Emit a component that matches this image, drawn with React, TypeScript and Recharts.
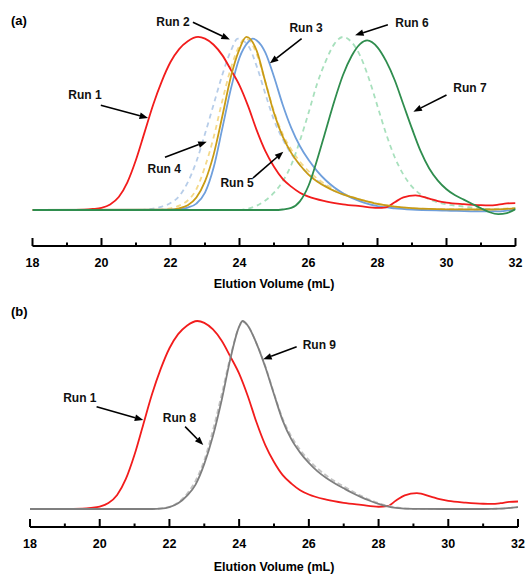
import { LineChart, Line, XAxis, YAxis, ReferenceLine, ReferenceDot } from 'recharts'

// elution volume (mL) -> normalised absorbance
const volumeTicks = [18, 19, 20, 21, 22, 23, 24, 25, 26, 27, 28, 29, 30, 31, 32]

const run1 = [
  [18, 0], [19, 0], [19.5, 0.002], [19.75, 0.006], [20, 0.013], [20.25, 0.032], [20.5, 0.075], [20.75, 0.16],
  [21, 0.29], [21.25, 0.45], [21.5, 0.61], [21.75, 0.745], [22, 0.855], [22.25, 0.93], [22.5, 0.975], [22.8, 1.0],
  [23, 0.99], [23.25, 0.955], [23.5, 0.895], [23.75, 0.81], [24, 0.72], [24.25, 0.6], [24.5, 0.46], [24.75, 0.34],
  [25, 0.25], [25.25, 0.18], [25.5, 0.135], [25.75, 0.1], [26, 0.077], [26.5, 0.05], [27, 0.033], [27.5, 0.022],
  [28, 0.012], [28.25, 0.015], [28.5, 0.045], [28.75, 0.073], [29.1, 0.085], [29.5, 0.066], [29.75, 0.052],
  [30, 0.043], [30.5, 0.034], [31, 0.028], [31.25, 0.027], [31.5, 0.031], [31.75, 0.038], [32, 0.04],
]

const run2 = [
  [18, 0], [21, 0], [21.5, 0.008], [21.75, 0.02], [22, 0.04], [22.25, 0.08], [22.5, 0.16], [22.75, 0.28],
  [23, 0.44], [23.25, 0.61], [23.5, 0.78], [23.75, 0.92], [23.95, 0.99], [24.25, 0.95], [24.5, 0.83], [24.75, 0.67],
  [25, 0.52], [25.25, 0.41], [25.5, 0.325], [25.75, 0.26], [26, 0.21], [26.25, 0.17], [26.5, 0.14], [26.75, 0.11],
  [27, 0.09], [27.5, 0.06], [28, 0.035], [28.5, 0.018], [29, 0.008], [30, 0.003], [31, 0.001], [32, 0.005],
]

const run3 = [
  [18, 0], [22, 0.002], [22.25, 0.006], [22.5, 0.014], [22.75, 0.037], [23, 0.1], [23.25, 0.245], [23.5, 0.47],
  [23.75, 0.7], [24, 0.88], [24.25, 0.97], [24.38, 0.99], [24.5, 0.98], [24.75, 0.91], [25, 0.77], [25.25, 0.61],
  [25.5, 0.475], [25.75, 0.37], [26, 0.29], [26.25, 0.225], [26.5, 0.172], [26.75, 0.13], [27, 0.097],
  [27.25, 0.07], [27.5, 0.05], [27.75, 0.034], [28, 0.022], [28.5, 0.01], [29, 0.003], [30, -0.003],
  [31, -0.008], [31.5, -0.008], [32, 0.005],
]

const run4 = [
  [18, 0], [21.5, 0], [22, 0.01], [22.25, 0.025], [22.5, 0.055], [22.75, 0.12], [23, 0.25], [23.25, 0.42],
  [23.5, 0.63], [23.75, 0.82], [24, 0.95], [24.15, 0.99], [24.25, 0.985], [24.5, 0.9], [24.75, 0.74], [25, 0.57],
  [25.25, 0.44], [25.5, 0.35], [25.75, 0.28], [26, 0.225], [26.25, 0.182], [26.5, 0.147], [26.75, 0.12],
  [27, 0.096], [27.5, 0.062], [28, 0.038], [28.5, 0.02], [29, 0.01], [30, 0.005], [31, 0.005], [32, 0.012],
]

const run5 = [
  [18, 0], [22, 0.002], [22.25, 0.01], [22.5, 0.027], [22.75, 0.072], [23, 0.165], [23.25, 0.32], [23.5, 0.54],
  [23.75, 0.77], [24, 0.93], [24.2, 1.0], [24.5, 0.92], [24.75, 0.74], [25, 0.56], [25.25, 0.425], [25.5, 0.33],
  [25.75, 0.26], [26, 0.205], [26.25, 0.165], [26.5, 0.135], [26.75, 0.11], [27, 0.09], [27.25, 0.074],
  [27.5, 0.06], [28, 0.035], [28.5, 0.02], [29, 0.011], [29.5, 0.006], [30, 0.004], [31, 0.003], [31.5, 0.004],
  [32, 0.01],
]

const run6 = [
  [18, 0], [24, 0], [24.25, 0.008], [24.5, 0.025], [24.75, 0.055], [25, 0.1], [25.25, 0.165], [25.5, 0.26],
  [25.75, 0.4], [26, 0.56], [26.25, 0.73], [26.5, 0.86], [26.75, 0.96], [27, 1.0], [27.25, 0.97], [27.5, 0.89],
  [27.75, 0.76], [28, 0.6], [28.25, 0.44], [28.5, 0.305], [28.75, 0.205], [29, 0.135], [29.25, 0.09],
  [29.5, 0.062], [29.75, 0.044], [30, 0.033], [30.5, 0.02], [31, 0.008], [31.5, 0.005], [32, 0.01],
]

const run7 = [
  [18, 0], [25, 0], [25.25, 0.003], [25.5, 0.012], [25.75, 0.05], [26, 0.14], [26.25, 0.29], [26.5, 0.46],
  [26.75, 0.63], [27, 0.78], [27.25, 0.89], [27.5, 0.96], [27.7, 0.98], [28, 0.94], [28.25, 0.86], [28.5, 0.75],
  [28.75, 0.61], [29, 0.47], [29.25, 0.34], [29.5, 0.24], [29.75, 0.17], [30, 0.12], [30.25, 0.085], [30.5, 0.06],
  [30.75, 0.035], [31, 0.01], [31.25, -0.013], [31.5, -0.024], [31.75, -0.018], [32, 0.005],
]

const run8 = [
  [18, 0], [21.5, 0], [22, 0.012], [22.25, 0.035], [22.5, 0.08], [22.75, 0.15], [23, 0.26], [23.25, 0.42],
  [23.5, 0.61], [23.75, 0.81], [24, 0.97], [24.1, 0.995], [24.25, 0.975], [24.5, 0.88], [24.75, 0.76], [25, 0.615],
  [25.25, 0.48], [25.5, 0.385], [25.75, 0.315], [26, 0.26], [26.25, 0.215], [26.5, 0.178], [26.75, 0.147],
  [27, 0.12], [27.25, 0.094], [27.5, 0.07], [27.75, 0.049], [28, 0.031], [28.5, 0.009], [29, 0.001], [30, 0],
  [31, 0], [31.5, 0.002], [32, 0.01],
]

const run9 = [
  [18, 0], [21.5, 0], [21.75, 0.002], [22, 0.01], [22.25, 0.03], [22.5, 0.07], [22.75, 0.13], [23, 0.24],
  [23.25, 0.39], [23.5, 0.58], [23.75, 0.8], [24, 0.97], [24.1, 1.0], [24.25, 0.975], [24.5, 0.88], [24.75, 0.755],
  [25, 0.61], [25.25, 0.47], [25.5, 0.37], [25.75, 0.3], [26, 0.245], [26.25, 0.2], [26.5, 0.165],
  [26.75, 0.136], [27, 0.11], [27.25, 0.085], [27.5, 0.063], [27.75, 0.044], [28, 0.027], [28.25, 0.014],
  [28.5, 0.006], [29, 0.001], [30, 0], [31, 0], [31.5, 0.002], [32, 0.01],
]

// callouts in data units: label centre, arrow tail, arrow tip
const notesA = [
  { text: 'Run 1', at: [19.52, 0.665], from: [19.98, 0.605], to: [21.35, 0.532] },
  { text: 'Run 2', at: [22.07, 1.09], from: [22.65, 1.085], to: [23.72, 0.985] },
  { text: 'Run 3', at: [25.93, 1.052], from: [25.8, 0.99], to: [24.88, 0.848] },
  { text: 'Run 4', at: [21.82, 0.237], from: [21.84, 0.305], to: [23.05, 0.395] },
  { text: 'Run 5', at: [23.93, 0.156], from: [24.39, 0.185], to: [25.27, 0.337] },
  { text: 'Run 6', at: [29.0, 1.081], from: [28.3, 1.07], to: [27.35, 1.01] },
  { text: 'Run 7', at: [30.68, 0.705], from: [30.0, 0.665], to: [29.04, 0.568] },
]

const notesB = [
  { text: 'Run 1', at: [19.43, 0.592], from: [19.91, 0.544], to: [21.25, 0.473] },
  { text: 'Run 8', at: [22.29, 0.488], from: [22.45, 0.438], to: [22.97, 0.34] },
  { text: 'Run 9', at: [26.3, 0.872], from: [25.65, 0.863], to: [24.69, 0.796] },
]

const seriesA = [
  { name: 'Run 2', pts: run2, color: '#b7cde9', dash: '5 4' },
  { name: 'Run 4', pts: run4, color: '#f4d98a', dash: '5 4' },
  { name: 'Run 6', pts: run6, color: '#a8e0bd', dash: '5 4' },
  { name: 'Run 3', pts: run3, color: '#6f9fdc' },
  { name: 'Run 1', pts: run1, color: '#f21c1c' },
  { name: 'Run 5', pts: run5, color: '#c99b14' },
  { name: 'Run 7', pts: run7, color: '#2f8d4e' },
]

const seriesB = [
  { name: 'Run 1', pts: run1, color: '#f21c1c' },
  { name: 'Run 8', pts: run8, color: '#c4c4c4', dash: '5 3' },
  { name: 'Run 9', pts: run9, color: '#7f7f7f' },
]

const toPoints = (pairs: number[][]) => pairs.map(([v, a]) => ({ v, a }))

function VolumeTick(props: any) {
  const { x, y, payload } = props
  const major = payload.value % 2 === 0
  return (
    <g>
      <line x1={x} x2={x} y1={y - (major ? 8 : 3.5)} y2={y} stroke="#000" strokeWidth={2} />
      {major && (
        <text x={x} y={y + 20.5} textAnchor="middle" fontSize={12.5} fontWeight="bold" fill="#000">
          {payload.value}
        </text>
      )}
    </g>
  )
}

function Arrow(props: any) {
  const { x1, y1, x2, y2 } = props
  if ([x1, y1, x2, y2].some((n) => typeof n !== 'number' || isNaN(n))) return null
  const ang = Math.atan2(y2 - y1, x2 - x1)
  const len = 8.5
  const half = 3.3
  const bx = x2 - len * Math.cos(ang)
  const by = y2 - len * Math.sin(ang)
  const px = -Math.sin(ang) * half
  const py = Math.cos(ang) * half
  return (
    <g>
      <line x1={x1} y1={y1} x2={bx} y2={by} stroke="#000" strokeWidth={1.6} />
      <polygon points={`${x2},${y2} ${bx + px},${by + py} ${bx - px},${by - py}`} fill="#000" />
    </g>
  )
}

function NoteText(text: string) {
  return (p: any) => (
    <text x={p.cx} y={p.cy} dy="0.36em" textAnchor="middle" fontSize={12} fontWeight="bold" fill="#111">
      {text}
    </text>
  )
}

function Panel({ height, margin, domain, series, notes, axisHeight }: any) {
  return (
    <LineChart width={527} height={height} margin={margin}>
      <XAxis
        type="number"
        dataKey="v"
        domain={[18, 32]}
        ticks={volumeTicks}
        allowDataOverflow
        height={axisHeight}
        tickSize={0}
        tickMargin={0}
        tickLine={false}
        axisLine={{ stroke: '#000', strokeWidth: 2 }}
        tick={<VolumeTick />}
        label={{
          value: 'Elution Volume (mL)',
          position: 'insideBottom',
          offset: 4,
          style: { fontSize: 12.5, fontWeight: 'bold', fill: '#000' },
        }}
      />
      <YAxis type="number" hide domain={domain} allowDataOverflow />
      {series.map((s: any) => (
        <Line
          key={s.name}
          data={toPoints(s.pts)}
          dataKey="a"
          name={s.name}
          type="monotone"
          stroke={s.color}
          strokeWidth={1.8}
          strokeDasharray={s.dash}
          dot={false}
          activeDot={false}
          isAnimationActive={false}
        />
      ))}
      {notes.map((n: any) => (
        <ReferenceLine
          key={n.text + '-arrow'}
          segment={[{ x: n.from[0], y: n.from[1] }, { x: n.to[0], y: n.to[1] }]}
          ifOverflow="visible"
          shape={Arrow}
        />
      ))}
      {notes.map((n: any) => (
        <ReferenceDot
          key={n.text + '-label'}
          x={n.at[0]}
          y={n.at[1]}
          r={0}
          ifOverflow="visible"
          shape={NoteText(n.text)}
        />
      ))}
    </LineChart>
  )
}

export default function App() {
  const tag = { position: 'absolute' as const, left: 11, fontSize: 13, fontWeight: 'bold' as const, lineHeight: '14px' }
  return (
    <div
      style={{
        position: 'absolute',
        left: 0,
        top: 0,
        width: 527,
        height: 575,
        background: '#fff',
        fontFamily: '"Liberation Sans", Arial, sans-serif',
        color: '#000',
      }}
    >
      <div style={{ ...tag, top: 14 }}>(a)</div>
      <div style={{ ...tag, top: 305 }}>(b)</div>
      <div style={{ position: 'absolute', left: 0, top: 0 }}>
        <Panel
          height={292}
          margin={{ top: 20, right: 11.5, bottom: 0, left: 32.5 }}
          axisHeight={46}
          domain={[-0.208, 1.098]}
          series={seriesA}
          notes={notesA}
        />
      </div>
      <div style={{ position: 'absolute', left: 0, top: 292 }}>
        <Panel
          height={283}
          margin={{ top: 10, right: 9, bottom: 0, left: 30 }}
          axisHeight={48}
          domain={[-0.0957, 1.101]}
          series={seriesB}
          notes={notesB}
        />
      </div>
    </div>
  )
}
